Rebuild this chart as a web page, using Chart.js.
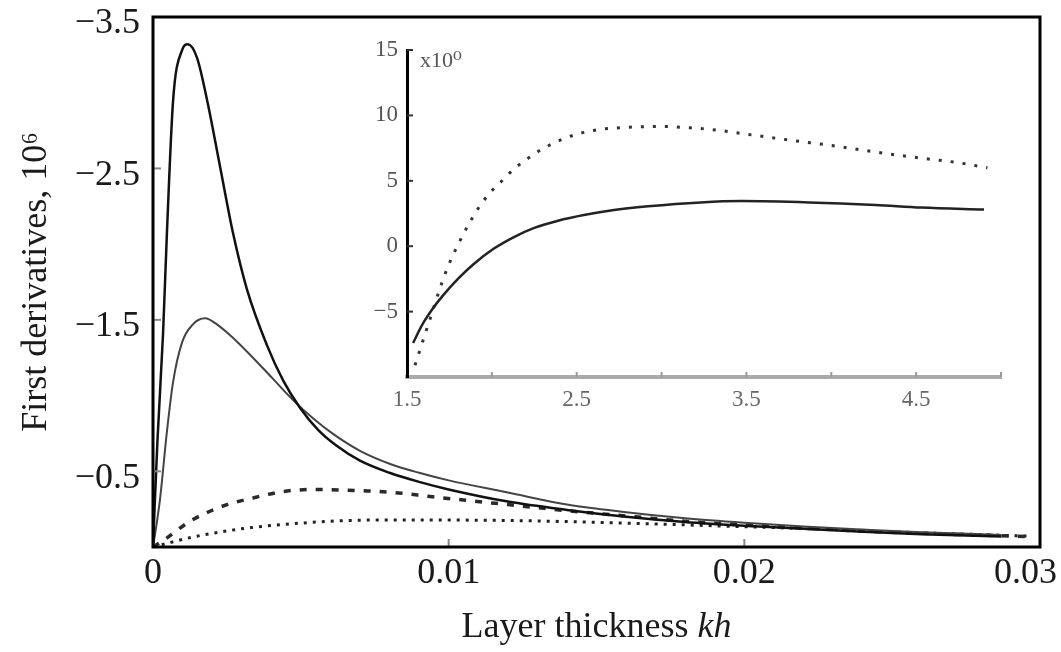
<!DOCTYPE html>
<html><head><meta charset="utf-8">
<script src="https://cdn.jsdelivr.net/npm/chart.js@4.4.1/dist/chart.umd.min.js"></script>
<style>
html,body{margin:0;padding:0;background:#fff;}
#wrap{position:relative;width:1061px;height:652px;overflow:hidden;}
#main{position:absolute;left:0;top:0;}
#inset{position:absolute;left:340px;top:20px;}
</style></head><body>
<div id="wrap">
<canvas id="main" width="1061" height="652"></canvas>
<canvas id="inset" width="700" height="410"></canvas>
</div>
<script>
// ---------- main chart data ----------
const mainXTicks = [0, 0.01, 0.02, 0.03];
const mainXTickLabels = ['0', '0.01', '0.02', '0.03'];
const mainYTicks = [-3.5, -2.5, -1.5, -0.5];
const mainYTickLabels = ['\u22123.5', '\u22122.5', '\u22121.5', '\u22120.5'];

const curveAx = [0, 0.00015, 0.00034, 0.00047, 0.00068, 0.00098, 0.00118, 0.00149, 0.00183, 0.00227, 0.00271, 0.00318, 0.00386, 0.0044, 0.00497, 0.0056, 0.0062, 0.007, 0.008, 0.009, 0.010, 0.012, 0.014, 0.016, 0.018, 0.020, 0.022, 0.024, 0.026, 0.0287];
const curveAy = [0, -0.7, -1.41, -2.07, -2.95, -3.28, -3.32, -3.23, -2.95, -2.51, -2.07, -1.70, -1.33, -1.10, -0.92, -0.77, -0.67, -0.57, -0.49, -0.43, -0.38, -0.3, -0.245, -0.2, -0.165, -0.14, -0.12, -0.1, -0.085, -0.07];

const curveBx = [0, 0.00012, 0.00024, 0.00047, 0.00068, 0.00098, 0.00135, 0.00176, 0.00216, 0.00271, 0.00338, 0.00406, 0.00474, 0.00541, 0.0061, 0.007, 0.008, 0.009, 0.010, 0.012, 0.014, 0.016, 0.018, 0.020, 0.022, 0.024, 0.026, 0.0287];
const curveBy = [0, -0.15, -0.32, -0.76, -1.09, -1.35, -1.47, -1.51, -1.47, -1.38, -1.25, -1.11, -0.97, -0.85, -0.745, -0.635, -0.55, -0.49, -0.44, -0.36, -0.28, -0.23, -0.19, -0.16, -0.135, -0.115, -0.097, -0.08];

const curveCx = [0, 0.0004, 0.00125, 0.0025, 0.0033, 0.0042, 0.0048, 0.00565, 0.0066, 0.0074, 0.0084, 0.0093, 0.0105, 0.012, 0.014, 0.016, 0.018, 0.020, 0.022, 0.024, 0.026, 0.0295];
const curveCy = [0, -0.05, -0.17, -0.28, -0.32, -0.36, -0.375, -0.38, -0.375, -0.37, -0.355, -0.335, -0.31, -0.28, -0.24, -0.205, -0.17, -0.145, -0.125, -0.105, -0.09, -0.07];

const curveDx = [0, 0.0004, 0.00135, 0.0029, 0.0034, 0.0045, 0.006, 0.0074, 0.0095, 0.011, 0.013, 0.015, 0.017, 0.019, 0.021, 0.023, 0.025, 0.027, 0.0296];
const curveDy = [0, -0.02, -0.066, -0.118, -0.13, -0.15, -0.17, -0.178, -0.178, -0.177, -0.172, -0.163, -0.152, -0.14, -0.128, -0.115, -0.1, -0.088, -0.072];

// ---------- inset data ----------
const insetXTicks = [1.5, 2.0, 2.5, 3.0, 3.5, 4.0, 4.5, 5.0];
const insetXTickLabels = ['1.5', '', '2.5', '', '3.5', '', '4.5', ''];
const insetYTicks = [-10, -5, 0, 5, 10, 15];
const insetYTickLabels = ['', '\u22125', '0', '5', '10', '15'];

const insetSolidX = [1.536, 1.59, 1.65, 1.71, 1.80, 1.89, 2.01, 2.13, 2.25, 2.39, 2.55, 2.71, 2.92, 3.23, 3.47, 3.87, 4.26, 4.53, 4.90];
const insetSolidY = [-7.4, -6.0, -4.8, -3.8, -2.5, -1.4, -0.2, 0.7, 1.4, 1.95, 2.4, 2.75, 3.05, 3.35, 3.45, 3.35, 3.15, 2.95, 2.8];

const insetDotX = [1.547, 1.577, 1.65, 1.695, 1.74, 1.80, 1.86, 1.92, 1.99, 2.06, 2.13, 2.2, 2.28, 2.44, 2.6, 2.81, 3.0, 3.17, 3.34, 3.48, 3.62, 3.76, 4.0, 4.16, 4.34, 4.55, 4.74, 4.92];
const insetDotY = [-9.1, -7.9, -5.0, -3.2, -1.6, 0.1, 1.6, 2.9, 4.1, 5.0, 5.9, 6.6, 7.3, 8.3, 8.85, 9.1, 9.15, 9.05, 8.85, 8.6, 8.35, 8.1, 7.7, 7.4, 7.05, 6.7, 6.4, 6.0];

const FONT = "'Liberation Serif', 'DejaVu Serif', serif";
const pts = (xs, ys) => xs.map((x, i) => ({x: x, y: ys[i]}));

// ---------- main chart ----------
const mainDecor = {
  id: 'mainDecor',
  afterDraw(chart) {
    const {ctx, chartArea: a, scales: {x, y}} = chart;
    ctx.save();
    ctx.strokeStyle = '#888'; ctx.lineWidth = 2;
    mainXTicks.slice(1, -1).forEach(v => {
      const px = x.getPixelForValue(v);
      ctx.beginPath(); ctx.moveTo(px, a.bottom); ctx.lineTo(px, a.bottom - 8); ctx.stroke();
    });
    mainYTicks.slice(1).forEach(v => {
      const py = y.getPixelForValue(v);
      ctx.beginPath(); ctx.moveTo(a.left, py); ctx.lineTo(a.left + 8, py); ctx.stroke();
    });
    ctx.strokeStyle = '#000'; ctx.lineWidth = 3;
    ctx.strokeRect(a.left, a.top, a.right - a.left, a.bottom - a.top);
    // x tick labels
    ctx.fillStyle = '#1a1a1a';
    ctx.font = '36px ' + FONT;
    ctx.textBaseline = 'middle';
    mainXTicks.forEach((v, i) => {
      const px = x.getPixelForValue(v);
      const last = i === mainXTicks.length - 1;
      ctx.textAlign = last ? 'right' : 'center';
      ctx.fillText(mainXTickLabels[i], last ? px + 17 : px, a.bottom + 27);
    });
    // x axis title with italic kh
    const p1 = 'Layer thickness ', p2 = 'kh';
    ctx.font = '36px ' + FONT;
    const w1 = ctx.measureText(p1).width;
    ctx.font = 'italic 36px ' + FONT;
    const w2 = ctx.measureText(p2).width;
    const cx = (a.left + a.right) / 2;
    const sx = cx - (w1 + w2) / 2;
    ctx.textAlign = 'left';
    ctx.font = '36px ' + FONT;
    ctx.fillText(p1, sx, 628);
    ctx.font = 'italic 36px ' + FONT;
    ctx.fillText(p2, sx + w1, 628);
    ctx.restore();
  }
};

new Chart(document.getElementById('main'), {
  type: 'line',
  data: {
    datasets: [
      {data: pts(curveAx, curveAy), borderColor: '#111', borderWidth: 2.5},
      {data: pts(curveBx, curveBy), borderColor: '#444', borderWidth: 2},
      {data: pts(curveCx, curveCy), borderColor: '#2a2a2a', borderWidth: 3.5, borderDash: [7, 9]},
      {data: pts(curveDx, curveDy), borderColor: '#222', borderWidth: 3, borderDash: [3, 6]}
    ]
  },
  options: {
    responsive: false, animation: false,
    layout: {padding: {left: 0, top: 17, right: 21, bottom: 0}},
    elements: {point: {radius: 0}, line: {cubicInterpolationMode: 'monotone', fill: false}},
    plugins: {legend: {display: false}, tooltip: {enabled: false}},
    scales: {
      x: {
        type: 'linear', min: 0, max: 0.03,
        afterBuildTicks: s => { s.ticks = mainXTicks.map(v => ({value: v})); },
        ticks: {display: false},
        grid: {display: false, drawTicks: false}, border: {display: false},
        afterFit: s => { s.height = 105; s.paddingLeft = 0; s.paddingRight = 0; }
      },
      y: {
        type: 'linear', reverse: true, min: -3.5, max: 0,
        afterBuildTicks: s => { s.ticks = mainYTicks.map(v => ({value: v})); },
        ticks: {
          autoSkip: false,
          callback: (v, i) => mainYTickLabels[i],
          font: {family: FONT, size: 36}, color: '#1a1a1a', padding: 13, labelOffset: 7
        },
        grid: {display: false, drawTicks: false}, border: {display: false},
        title: {display: true, text: 'First derivatives, 10\u2076', color: '#1a1a1a',
                font: {family: FONT, size: 36}, padding: {top: 15, bottom: 0}},
        afterFit: s => { s.width = 153; s.paddingTop = 0; s.paddingBottom = 0; }
      }
    }
  },
  plugins: [mainDecor]
});

// ---------- inset chart ----------
const insetDecor = {
  id: 'insetDecor',
  afterDraw(chart) {
    const {ctx, chartArea: a, scales: {x, y}} = chart;
    ctx.save();
    ctx.strokeStyle = '#999'; ctx.lineWidth = 2;
    insetXTicks.slice(1).forEach(v => {
      const px = x.getPixelForValue(v);
      ctx.beginPath(); ctx.moveTo(px, a.bottom); ctx.lineTo(px, a.bottom - 5); ctx.stroke();
    });
    ctx.strokeStyle = '#333';
    insetYTicks.slice(1).forEach(v => {
      const py = y.getPixelForValue(v);
      ctx.beginPath(); ctx.moveTo(a.left, py); ctx.lineTo(a.left + 6, py); ctx.stroke();
    });
    ctx.fillStyle = '#555';
    ctx.textAlign = 'left'; ctx.textBaseline = 'alphabetic';
    ctx.font = '22px ' + FONT;
    ctx.fillText('x10\u2070', a.left + 13, a.top + 17);
    ctx.restore();
  }
};

new Chart(document.getElementById('inset'), {
  type: 'line',
  data: {
    datasets: [
      {data: pts(insetSolidX, insetSolidY), borderColor: '#222', borderWidth: 2.5},
      {data: pts(insetDotX, insetDotY), borderColor: '#333', borderWidth: 3, borderDash: [3, 9]}
    ]
  },
  options: {
    responsive: false, animation: false,
    layout: {padding: {left: 0, top: 30, right: 39, bottom: 0}},
    elements: {point: {radius: 0}, line: {cubicInterpolationMode: 'monotone', fill: false}},
    plugins: {legend: {display: false}, tooltip: {enabled: false}},
    scales: {
      x: {
        type: 'linear', min: 1.5, max: 5.0,
        afterBuildTicks: s => { s.ticks = insetXTicks.map(v => ({value: v})); },
        ticks: {autoSkip: false, maxRotation: 0, callback: (v, i) => insetXTickLabels[i],
                font: {family: FONT, size: 23}, color: '#666', padding: 9},
        grid: {display: false, drawTicks: false},
        border: {display: true, color: '#aaa', width: 4},
        afterFit: s => { s.height = 53; s.paddingLeft = 0; s.paddingRight = 0; }
      },
      y: {
        type: 'linear', min: -10, max: 15,
        afterBuildTicks: s => { s.ticks = insetYTicks.map(v => ({value: v})); },
        ticks: {autoSkip: false, callback: (v, i) => insetYTickLabels[i],
                font: {family: FONT, size: 23}, color: '#555', padding: 9},
        grid: {display: false, drawTicks: false},
        border: {display: true, color: '#000', width: 3},
        afterFit: s => { s.width = 67; s.paddingTop = 0; s.paddingBottom = 0; }
      }
    }
  },
  plugins: [insetDecor]
});
</script>
</body></html>
